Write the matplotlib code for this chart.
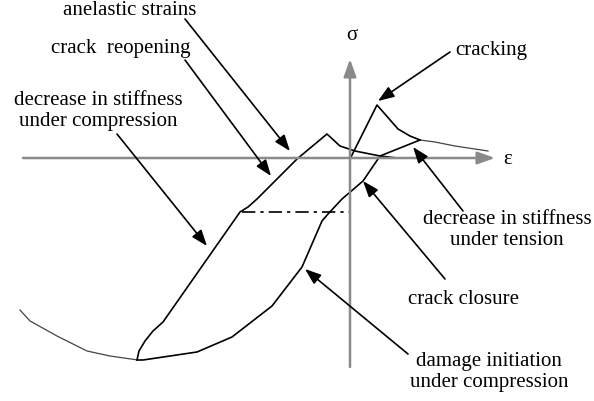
import matplotlib.pyplot as plt

# schematic stress-strain loop (strain, stress in arbitrary units, origin at axis crossing)
tension_env_x = [1, 27, 48, 60, 70]
tension_env_y = [1, 53, 29, 22, 18]
tension_tail_x = [70, 85, 105, 138]
tension_tail_y = [18, 16, 12, 7]
unload_x = [70, 30, 13, -8, -22, -28, -48, -78, -118, -153, -207, -213]
unload_y = [18, 2, -23, -41, -56, -63, -109, -148, -179, -194, -202, -202]
comp_env_x = [-330, -320, -293, -263, -240, -212]
comp_env_y = [-152, -163, -178, -193, -198, -202]
reload_x = [-213, -211, -205, -197, -187, -110, -102, -93, -53, -23, -10, 5, 30, 47]
reload_y = [-202, -193, -183, -173, -164, -54, -49, -41, -1, 24, 12, 7, 2, 0]
damage_level_x = [-108, 0]
damage_level_y = [-54, -54]

# annotations: text, text position, arrow tail, arrow head
labels = [
    ("anelastic strains", (-220, 149), (-165, 139), (-60, 7)),
    ("crack  reopening", (-229, 111), (-165, 98), (-79, -18)),
    ("decrease in stiffness\nunder compression", (-252, 48), (-233, 24), (-143, -88)),
    ("cracking", (141, 109), (100, 106), (28, 57)),
    ("decrease in stiffness\nunder tension", (157, -71), (113, -53), (63, 11)),
    ("crack closure", (114, -140), (95, -121), (13, -23)),
    ("damage initiation\nunder compression", (139, -213), (58, -196), (-45, -111)),
]

fig = plt.figure(figsize=(5.94, 4.02), dpi=100)
ax = fig.add_axes([0, 0, 1, 1])
ax.set_xlim(-350, 244)
ax.set_ylim(-243, 159)
ax.axis('off')

# axes with arrows
axis_style = dict(arrowstyle='-|>,head_length=0.7,head_width=0.25', color='#8a8a8a',
                  lw=1.8, mutation_scale=15, shrinkA=0, shrinkB=0)
ax.annotate('', xy=(145, 0), xytext=(-327, 0), arrowprops=axis_style)
ax.annotate('', xy=(0, 99), xytext=(0, -209), arrowprops=axis_style)

serif = 'Liberation Serif'
ax.text(2, 123, 'σ', fontsize=15, family=serif, ha='center', va='center')
ax.text(158, 0, 'ε', fontsize=15, family=serif, ha='center', va='center')

ax.plot(tension_env_x, tension_env_y, color='black', lw=1.2)
ax.plot(tension_tail_x, tension_tail_y, color='#444444', lw=0.9)
ax.plot(unload_x, unload_y, color='black', lw=1.2)
ax.plot(comp_env_x, comp_env_y, color='#444444', lw=0.9)
ax.plot(reload_x, reload_y, color='black', lw=1.2)
ax.plot(damage_level_x, damage_level_y, color='black', lw=1.2, linestyle=(0, (8, 3, 2, 3)))

for text, pos, tail, head in labels:
    ax.annotate('', xy=head, xytext=tail,
                arrowprops=dict(arrowstyle='-|>,head_length=0.65,head_width=0.24',
                                color='black', lw=1.2, mutation_scale=15,
                                shrinkA=0, shrinkB=0))
    ax.text(pos[0], pos[1], text, fontsize=15, family=serif, ha='center',
            va='center', linespacing=1.15)

plt.savefig('out.png', dpi=100)
plt.close()
